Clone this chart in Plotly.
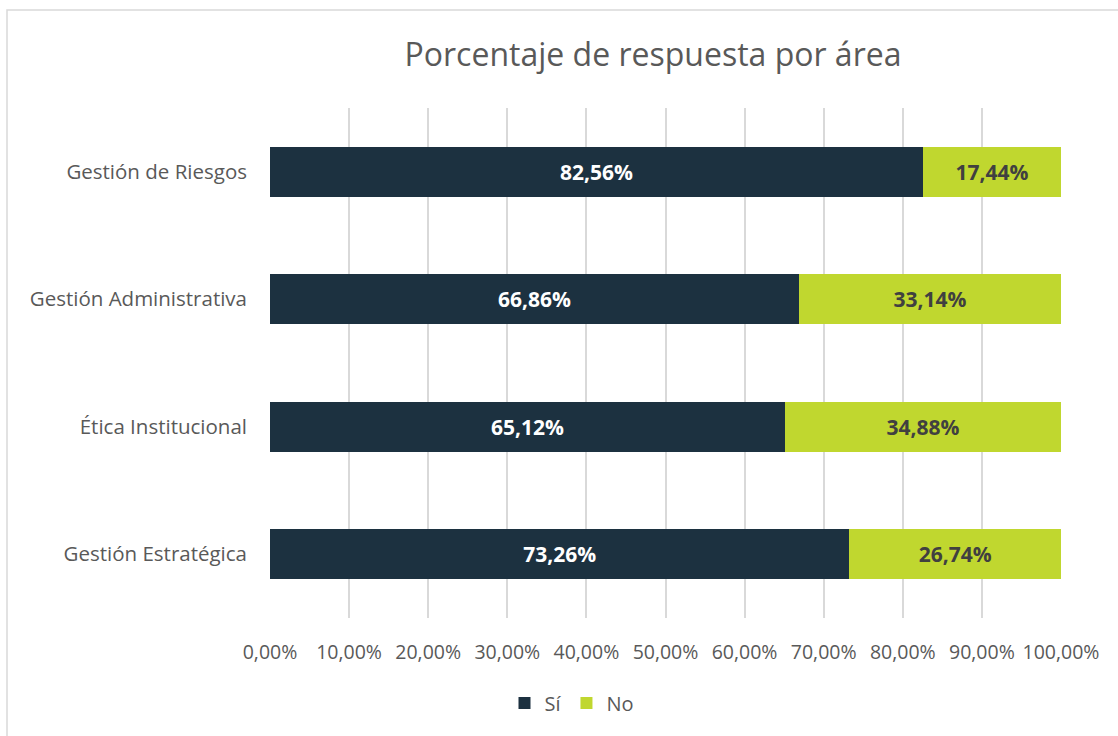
import plotly.graph_objects as go

categories = ["Gestión Estratégica", "Ética Institucional", "Gestión Administrativa", "Gestión de Riesgos"]
si_values = [73.26, 65.12, 66.86, 82.56]
no_values = [26.74, 34.88, 33.14, 17.44]
tick_vals = [0, 10, 20, 30, 40, 50, 60, 70, 80, 90, 100]
tick_text = ["0,00%", "10,00%", "20,00%", "30,00%", "40,00%", "50,00%", "60,00%", "70,00%", "80,00%", "90,00%", "100,00%"]

def fmt(v):
    return f"{v:.2f}".replace(".", ",") + "%"

W, H = 1118, 736
ML, MR, MT, MB = 270, 57, 108, 118
PW = W - ML - MR
PH = H - MT - MB

font_family = "Open Sans, Noto Sans, sans-serif"

fig = go.Figure()
fig.add_trace(go.Bar(
    y=categories, x=si_values, orientation="h", name="Sí",
    marker=dict(color="#1C3140", line=dict(width=0)),
    text=[fmt(v) for v in si_values], textposition="inside", insidetextanchor="middle",
    textfont=dict(color="#FFFFFF", size=21, family=font_family, weight="bold"),
))
fig.add_trace(go.Bar(
    y=categories, x=no_values, orientation="h", name="No",
    marker=dict(color="#C0D72F", line=dict(width=0)),
    text=[fmt(v) for v in no_values], textposition="inside", insidetextanchor="middle",
    textfont=dict(color="#404040", size=21, family=font_family, weight="bold"),
))

fig.update_layout(
    width=W, height=H,
    barmode="stack", bargap=0.61,
    margin=dict(l=ML, r=MR, t=MT, b=MB),
    paper_bgcolor="white", plot_bgcolor="white",
    font=dict(family=font_family, color="#595959", size=20),
    title=dict(text="Porcentaje de respuesta por área", x=653 / W, xanchor="center",
               y=1 - 55 / H, yanchor="middle",
               font=dict(size=32, color="#595959", family=font_family)),
    xaxis=dict(range=[0, 100], tickvals=tick_vals, ticktext=tick_text,
               showgrid=True, gridcolor="#D9D9D9", gridwidth=1.5, zeroline=False,
               showline=False, ticks="", ticklabelstandoff=20,
               tickfont=dict(size=19.5, color="#595959")),
    yaxis=dict(showgrid=False, zeroline=False, showline=False, ticks="",
               ticklabelstandoff=22, tickfont=dict(size=20.5, color="#595959")),
    legend=dict(orientation="h", x=(572 - ML) / PW, xanchor="center",
                y=-(703 - MT - PH) / PH, yanchor="middle",
                font=dict(size=20, color="#595959"), itemwidth=30, traceorder="normal"),
    uniformtext=dict(mode="show", minsize=10),
    showlegend=True,
)

# outer chart border
fig.add_shape(type="rect", xref="paper", yref="paper",
              x0=(7 - ML) / PW, x1=(W + 5 - ML) / PW,
              y0=-(H + 5 - MT - PH) / PH, y1=1 + (MT - 10) / PH,
              line=dict(color="#D9D9D9", width=1.5), fillcolor="rgba(0,0,0,0)", layer="below")

fig.write_html("out.html", config={"displayModeBar": False},
               post_script="document.body.style.margin='0px';document.body.style.overflow='hidden';")
